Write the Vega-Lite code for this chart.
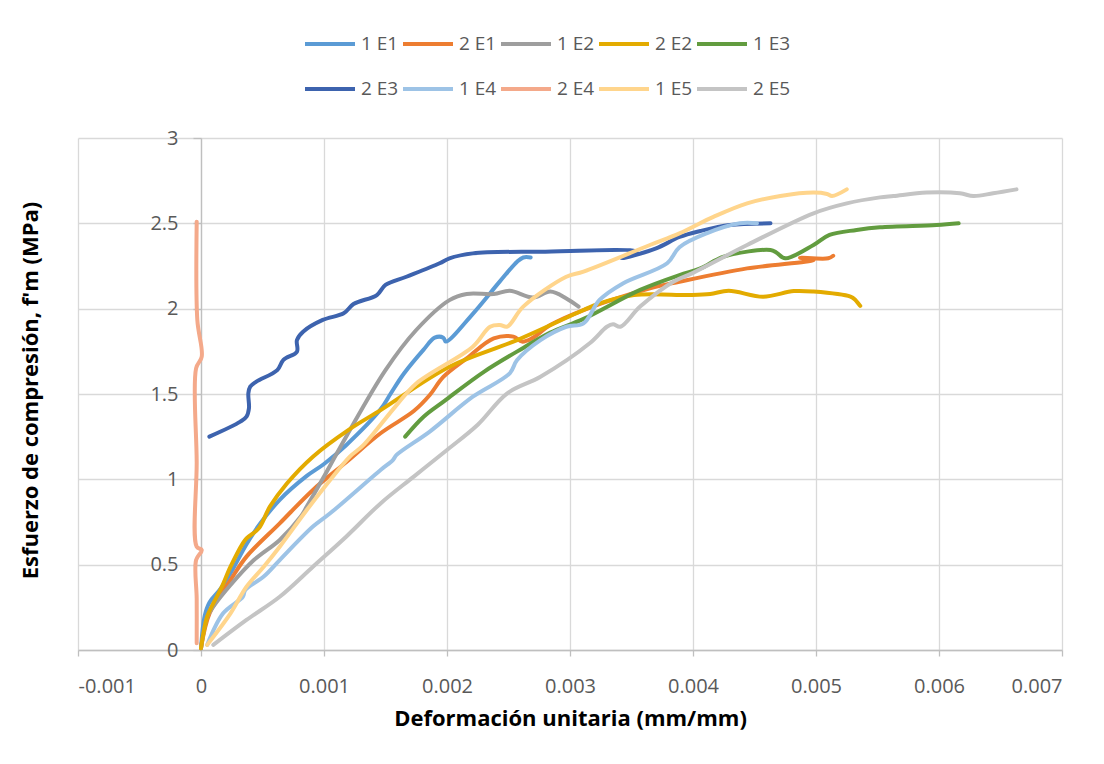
{
  "$schema": "https://vega.github.io/schema/vega-lite/v6.json",
  "width": 984,
  "height": 512,
  "autosize": {"type": "none"},
  "padding": {"left": 78, "top": 138, "right": 42, "bottom": 114},
  "background": "white",
  "config": {"view": {"stroke": null}, "font": "Open Sans"},
  "data": {"values": [
    {"s":"1 E1","i":0,"x":0,"y":0.01},{"s":"1 E1","i":1,"x":0.00003,"y":0.2},{"s":"1 E1","i":2,"x":0.00007,"y":0.28},{"s":"1 E1","i":3,"x":0.00015,"y":0.35},{"s":"1 E1","i":4,"x":0.00024,"y":0.45},{"s":"1 E1","i":5,"x":0.00037,"y":0.62},{"s":"1 E1","i":6,"x":0.00048,"y":0.74},{"s":"1 E1","i":7,"x":0.00064,"y":0.88},{"s":"1 E1","i":8,"x":0.00086,"y":1.02},{"s":"1 E1","i":9,"x":0.001,"y":1.09},{"s":"1 E1","i":10,"x":0.00118,"y":1.2},{"s":"1 E1","i":11,"x":0.00146,"y":1.41},{"s":"1 E1","i":12,"x":0.00154,"y":1.5},{"s":"1 E1","i":13,"x":0.00165,"y":1.62},{"s":"1 E1","i":14,"x":0.00181,"y":1.76},{"s":"1 E1","i":15,"x":0.0019,"y":1.83},{"s":"1 E1","i":16,"x":0.00197,"y":1.83},{"s":"1 E1","i":17,"x":0.00199,"y":1.807},{"s":"1 E1","i":18,"x":0.00221,"y":1.97},{"s":"1 E1","i":19,"x":0.00243,"y":2.16},{"s":"1 E1","i":20,"x":0.00257,"y":2.275},{"s":"1 E1","i":21,"x":0.00262,"y":2.3},{"s":"1 E1","i":22,"x":0.00268,"y":2.3},
    {"s":"2 E1","i":0,"x":0,"y":0.01},{"s":"2 E1","i":1,"x":0.00007,"y":0.215},{"s":"2 E1","i":2,"x":0.00024,"y":0.41},{"s":"2 E1","i":3,"x":0.00037,"y":0.547},{"s":"2 E1","i":4,"x":0.00064,"y":0.742},{"s":"2 E1","i":5,"x":0.00091,"y":0.938},{"s":"2 E1","i":6,"x":0.00118,"y":1.1},{"s":"2 E1","i":7,"x":0.00146,"y":1.27},{"s":"2 E1","i":8,"x":0.00173,"y":1.4},{"s":"2 E1","i":9,"x":0.00186,"y":1.494},{"s":"2 E1","i":10,"x":0.00197,"y":1.6},{"s":"2 E1","i":11,"x":0.00216,"y":1.709},{"s":"2 E1","i":12,"x":0.00238,"y":1.826},{"s":"2 E1","i":13,"x":0.00254,"y":1.836},{"s":"2 E1","i":14,"x":0.00261,"y":1.807},{"s":"2 E1","i":15,"x":0.00269,"y":1.826},{"s":"2 E1","i":16,"x":0.00284,"y":1.904},{"s":"2 E1","i":17,"x":0.00311,"y":1.992},{"s":"2 E1","i":18,"x":0.00365,"y":2.119},{"s":"2 E1","i":19,"x":0.00389,"y":2.158},{"s":"2 E1","i":20,"x":0.00444,"y":2.236},{"s":"2 E1","i":21,"x":0.00498,"y":2.285},{"s":"2 E1","i":22,"x":0.00487,"y":2.298},{"s":"2 E1","i":23,"x":0.0051,"y":2.295},{"s":"2 E1","i":24,"x":0.00514,"y":2.31},
    {"s":"1 E2","i":0,"x":0,"y":0.01},{"s":"1 E2","i":1,"x":0.00005,"y":0.195},{"s":"1 E2","i":2,"x":0.0001,"y":0.254},{"s":"1 E2","i":3,"x":0.00024,"y":0.381},{"s":"1 E2","i":4,"x":0.00043,"y":0.527},{"s":"1 E2","i":5,"x":0.00064,"y":0.645},{"s":"1 E2","i":6,"x":0.00081,"y":0.781},{"s":"1 E2","i":7,"x":0.00086,"y":0.84},{"s":"1 E2","i":8,"x":0.001,"y":1.016},{"s":"1 E2","i":9,"x":0.00118,"y":1.25},{"s":"1 E2","i":10,"x":0.0015,"y":1.64},{"s":"1 E2","i":11,"x":0.00175,"y":1.875},{"s":"1 E2","i":12,"x":0.00202,"y":2.05},{"s":"1 E2","i":13,"x":0.00216,"y":2.086},{"s":"1 E2","i":14,"x":0.00238,"y":2.086},{"s":"1 E2","i":15,"x":0.00251,"y":2.105},{"s":"1 E2","i":16,"x":0.0027,"y":2.066},{"s":"1 E2","i":17,"x":0.00284,"y":2.1},{"s":"1 E2","i":18,"x":0.00297,"y":2.06},{"s":"1 E2","i":19,"x":0.00307,"y":2.012},
    {"s":"2 E2","i":0,"x":0,"y":0.01},{"s":"2 E2","i":1,"x":0.00005,"y":0.195},{"s":"2 E2","i":2,"x":0.0001,"y":0.273},{"s":"2 E2","i":3,"x":0.00017,"y":0.371},{"s":"2 E2","i":4,"x":0.00024,"y":0.488},{"s":"2 E2","i":5,"x":0.00034,"y":0.625},{"s":"2 E2","i":6,"x":0.00037,"y":0.654},{"s":"2 E2","i":7,"x":0.00047,"y":0.713},{"s":"2 E2","i":8,"x":0.00056,"y":0.84},{"s":"2 E2","i":9,"x":0.0007,"y":0.977},{"s":"2 E2","i":10,"x":0.00091,"y":1.133},{"s":"2 E2","i":11,"x":0.0012,"y":1.29},{"s":"2 E2","i":12,"x":0.00147,"y":1.41},{"s":"2 E2","i":13,"x":0.00202,"y":1.66},{"s":"2 E2","i":14,"x":0.00257,"y":1.816},{"s":"2 E2","i":15,"x":0.00311,"y":1.992},{"s":"2 E2","i":16,"x":0.00324,"y":2.031},{"s":"2 E2","i":17,"x":0.00352,"y":2.08},{"s":"2 E2","i":18,"x":0.00398,"y":2.08},{"s":"2 E2","i":19,"x":0.00414,"y":2.086},{"s":"2 E2","i":20,"x":0.00429,"y":2.105},{"s":"2 E2","i":21,"x":0.00457,"y":2.07},{"s":"2 E2","i":22,"x":0.00482,"y":2.103},{"s":"2 E2","i":23,"x":0.00498,"y":2.1},{"s":"2 E2","i":24,"x":0.00528,"y":2.07},{"s":"2 E2","i":25,"x":0.00532,"y":2.051},{"s":"2 E2","i":26,"x":0.00536,"y":2.016},
    {"s":"1 E3","i":0,"x":0.00166,"y":1.25},{"s":"1 E3","i":1,"x":0.00181,"y":1.367},{"s":"1 E3","i":2,"x":0.00198,"y":1.46},{"s":"1 E3","i":3,"x":0.0023,"y":1.63},{"s":"1 E3","i":4,"x":0.00262,"y":1.77},{"s":"1 E3","i":5,"x":0.00284,"y":1.86},{"s":"1 E3","i":6,"x":0.00311,"y":1.94},{"s":"1 E3","i":7,"x":0.00357,"y":2.11},{"s":"1 E3","i":8,"x":0.00389,"y":2.197},{"s":"1 E3","i":9,"x":0.00406,"y":2.236},{"s":"1 E3","i":10,"x":0.00425,"y":2.305},{"s":"1 E3","i":11,"x":0.00463,"y":2.344},{"s":"1 E3","i":12,"x":0.00468,"y":2.328},{"s":"1 E3","i":13,"x":0.00475,"y":2.295},{"s":"1 E3","i":14,"x":0.00498,"y":2.373},{"s":"1 E3","i":15,"x":0.00511,"y":2.432},{"s":"1 E3","i":16,"x":0.00533,"y":2.461},{"s":"1 E3","i":17,"x":0.00552,"y":2.477},{"s":"1 E3","i":18,"x":0.00598,"y":2.49},{"s":"1 E3","i":19,"x":0.00616,"y":2.5},
    {"s":"2 E3","i":0,"x":0.000068,"y":1.25},{"s":"2 E3","i":1,"x":0.00032,"y":1.338},{"s":"2 E3","i":2,"x":0.00037,"y":1.367},{"s":"2 E3","i":3,"x":0.00039,"y":1.416},{"s":"2 E3","i":4,"x":0.000385,"y":1.504},{"s":"2 E3","i":5,"x":0.0004,"y":1.543},{"s":"2 E3","i":6,"x":0.00045,"y":1.572},{"s":"2 E3","i":7,"x":0.00062,"y":1.64},{"s":"2 E3","i":8,"x":0.00067,"y":1.7},{"s":"2 E3","i":9,"x":0.00078,"y":1.748},{"s":"2 E3","i":10,"x":0.00078,"y":1.816},{"s":"2 E3","i":11,"x":0.00083,"y":1.865},{"s":"2 E3","i":12,"x":0.00099,"y":1.934},{"s":"2 E3","i":13,"x":0.00116,"y":1.973},{"s":"2 E3","i":14,"x":0.00124,"y":2.027},{"s":"2 E3","i":15,"x":0.00143,"y":2.08},{"s":"2 E3","i":16,"x":0.0015,"y":2.139},{"s":"2 E3","i":17,"x":0.00167,"y":2.187},{"s":"2 E3","i":18,"x":0.00194,"y":2.266},{"s":"2 E3","i":19,"x":0.00202,"y":2.295},{"s":"2 E3","i":20,"x":0.00221,"y":2.324},{"s":"2 E3","i":21,"x":0.00276,"y":2.334},{"s":"2 E3","i":22,"x":0.00354,"y":2.334},{"s":"2 E3","i":23,"x":0.00342,"y":2.295},{"s":"2 E3","i":24,"x":0.0037,"y":2.353},{"s":"2 E3","i":25,"x":0.00389,"y":2.42},{"s":"2 E3","i":26,"x":0.00406,"y":2.455},{"s":"2 E3","i":27,"x":0.0043,"y":2.49},{"s":"2 E3","i":28,"x":0.00463,"y":2.5},
    {"s":"1 E4","i":0,"x":0.00005,"y":0.03},{"s":"1 E4","i":1,"x":0.00018,"y":0.215},{"s":"1 E4","i":2,"x":0.00034,"y":0.312},{"s":"1 E4","i":3,"x":0.00036,"y":0.352},{"s":"1 E4","i":4,"x":0.00051,"y":0.43},{"s":"1 E4","i":5,"x":0.00064,"y":0.527},{"s":"1 E4","i":6,"x":0.00091,"y":0.723},{"s":"1 E4","i":7,"x":0.00105,"y":0.801},{"s":"1 E4","i":8,"x":0.00146,"y":1.055},{"s":"1 E4","i":9,"x":0.00156,"y":1.113},{"s":"1 E4","i":10,"x":0.00159,"y":1.143},{"s":"1 E4","i":11,"x":0.00186,"y":1.28},{"s":"1 E4","i":12,"x":0.00221,"y":1.484},{"s":"1 E4","i":13,"x":0.00251,"y":1.621},{"s":"1 E4","i":14,"x":0.00257,"y":1.699},{"s":"1 E4","i":15,"x":0.00276,"y":1.816},{"s":"1 E4","i":16,"x":0.00297,"y":1.894},{"s":"1 E4","i":17,"x":0.00311,"y":1.914},{"s":"1 E4","i":18,"x":0.00324,"y":2.051},{"s":"1 E4","i":19,"x":0.00343,"y":2.148},{"s":"1 E4","i":20,"x":0.00379,"y":2.266},{"s":"1 E4","i":21,"x":0.00389,"y":2.36},{"s":"1 E4","i":22,"x":0.00411,"y":2.441},{"s":"1 E4","i":23,"x":0.00438,"y":2.5},{"s":"1 E4","i":24,"x":0.00452,"y":2.5},
    {"s":"2 E4","i":0,"x":-0.000035,"y":0.04},{"s":"2 E4","i":1,"x":-0.000035,"y":0.3},{"s":"2 E4","i":2,"x":-0.00004,"y":0.527},{"s":"2 E4","i":3,"x":0.000006,"y":0.586},{"s":"2 E4","i":4,"x":-0.000035,"y":0.605},{"s":"2 E4","i":5,"x":-0.000035,"y":1.1},{"s":"2 E4","i":6,"x":-0.00004,"y":1.65},{"s":"2 E4","i":7,"x":0.000006,"y":1.719},{"s":"2 E4","i":8,"x":-0.00003,"y":1.934},{"s":"2 E4","i":9,"x":-0.000035,"y":2.51},
    {"s":"1 E5","i":0,"x":0.00005,"y":0.03},{"s":"1 E5","i":1,"x":0.00024,"y":0.215},{"s":"1 E5","i":2,"x":0.00037,"y":0.371},{"s":"1 E5","i":3,"x":0.00051,"y":0.488},{"s":"1 E5","i":4,"x":0.00064,"y":0.605},{"s":"1 E5","i":5,"x":0.00086,"y":0.82},{"s":"1 E5","i":6,"x":0.00105,"y":0.996},{"s":"1 E5","i":7,"x":0.00121,"y":1.133},{"s":"1 E5","i":8,"x":0.00132,"y":1.2},{"s":"1 E5","i":9,"x":0.00158,"y":1.426},{"s":"1 E5","i":10,"x":0.00175,"y":1.562},{"s":"1 E5","i":11,"x":0.00221,"y":1.777},{"s":"1 E5","i":12,"x":0.00235,"y":1.894},{"s":"1 E5","i":13,"x":0.00243,"y":1.904},{"s":"1 E5","i":14,"x":0.00249,"y":1.895},{"s":"1 E5","i":15,"x":0.00262,"y":2.012},{"s":"1 E5","i":16,"x":0.00297,"y":2.187},{"s":"1 E5","i":17,"x":0.00311,"y":2.217},{"s":"1 E5","i":18,"x":0.00365,"y":2.373},{"s":"1 E5","i":19,"x":0.00389,"y":2.441},{"s":"1 E5","i":20,"x":0.00417,"y":2.539},{"s":"1 E5","i":21,"x":0.00444,"y":2.617},{"s":"1 E5","i":22,"x":0.00471,"y":2.66},{"s":"1 E5","i":23,"x":0.00498,"y":2.68},{"s":"1 E5","i":24,"x":0.00509,"y":2.672},{"s":"1 E5","i":25,"x":0.00513,"y":2.66},{"s":"1 E5","i":26,"x":0.00525,"y":2.699},
    {"s":"2 E5","i":0,"x":0.0001,"y":0.03},{"s":"2 E5","i":1,"x":0.00037,"y":0.176},{"s":"2 E5","i":2,"x":0.00064,"y":0.312},{"s":"2 E5","i":3,"x":0.00091,"y":0.488},{"s":"2 E5","i":4,"x":0.00118,"y":0.664},{"s":"2 E5","i":5,"x":0.00146,"y":0.859},{"s":"2 E5","i":6,"x":0.00173,"y":1.016},{"s":"2 E5","i":7,"x":0.002,"y":1.172},{"s":"2 E5","i":8,"x":0.00225,"y":1.32},{"s":"2 E5","i":9,"x":0.00249,"y":1.504},{"s":"2 E5","i":10,"x":0.00276,"y":1.601},{"s":"2 E5","i":11,"x":0.00316,"y":1.797},{"s":"2 E5","i":12,"x":0.0033,"y":1.894},{"s":"2 E5","i":13,"x":0.00335,"y":1.908},{"s":"2 E5","i":14,"x":0.00341,"y":1.894},{"s":"2 E5","i":15,"x":0.00357,"y":2.012},{"s":"2 E5","i":16,"x":0.00384,"y":2.158},{"s":"2 E5","i":17,"x":0.004,"y":2.21},{"s":"2 E5","i":18,"x":0.00444,"y":2.373},{"s":"2 E5","i":19,"x":0.00498,"y":2.559},{"s":"2 E5","i":20,"x":0.00525,"y":2.617},{"s":"2 E5","i":21,"x":0.00552,"y":2.652},{"s":"2 E5","i":22,"x":0.00563,"y":2.66},{"s":"2 E5","i":23,"x":0.0059,"y":2.68},{"s":"2 E5","i":24,"x":0.00617,"y":2.676},{"s":"2 E5","i":25,"x":0.00628,"y":2.66},{"s":"2 E5","i":26,"x":0.00644,"y":2.676},{"s":"2 E5","i":27,"x":0.00663,"y":2.699}
  ]},
  "mark": {"type": "line", "interpolate": "catmull-rom", "strokeWidth": 4, "strokeCap": "round", "strokeJoin": "round"},
  "encoding": {
    "x": {
      "field": "x", "type": "quantitative",
      "scale": {"domain": [-0.001, 0.007], "nice": false, "zero": false},
      "axis": {
        "values": [-0.001, 0, 0.001, 0.002, 0.003, 0.004, 0.005, 0.006, 0.007],
        "labelExpr": "datum.value < 0 ? '-' + format(-datum.value, '.3~f') : format(datum.value, '.3~f')",
        "title": "Deformación unitaria (mm/mm)",
        "grid": true, "gridColor": "#D9D9D9", "gridWidth": 1.3,
        "domainColor": "#BFBFBF", "domainWidth": 1.3,
        "tickColor": "#BFBFBF", "tickSize": 6, "tickWidth": 1.3,
        "labelFontSize": 20, "labelColor": "#595959", "labelPadding": 20,
        "titleFontSize": 22, "titleFontWeight": "bold", "titleColor": "#000000",
        "titleY": 68, "titleBaseline": "middle"
      }
    },
    "y": {
      "field": "y", "type": "quantitative",
      "scale": {"domain": [0, 3], "nice": false},
      "axis": {
        "values": [0, 0.5, 1, 1.5, 2, 2.5, 3],
        "format": "~g",
        "offset": -123,
        "title": "Esfuerzo de compresión, f'm (MPa)",
        "grid": true, "gridColor": "#D9D9D9", "gridWidth": 1.3,
        "domainColor": "#BFBFBF", "domainWidth": 1.3,
        "tickColor": "#BFBFBF", "tickSize": 8, "tickWidth": 1.3,
        "labelFontSize": 20, "labelColor": "#595959", "labelPadding": 15,
        "titleFontSize": 22, "titleFontWeight": "bold", "titleColor": "#000000",
        "titleX": -171, "titleY": 252, "titleBaseline": "middle", "titleAlign": "center"
      }
    },
    "color": {
      "field": "s", "type": "nominal",
      "scale": {
        "domain": ["1 E1", "2 E1", "1 E2", "2 E2", "1 E3", "2 E3", "1 E4", "2 E4", "1 E5", "2 E5"],
        "range": ["#5B9BD5", "#ED7D31", "#9E9E9E", "#E3AB00", "#629C3F", "#3D63AE", "#9DC3E6", "#F4A98A", "#FFD58C", "#C4C4C4"]
      },
      "legend": {
        "title": null, "orient": "none", "legendX": 225, "legendY": -104,
        "direction": "horizontal", "columns": 5,
        "symbolType": "stroke", "symbolSize": 2500, "symbolStrokeWidth": 4,
        "labelFontSize": 19, "labelColor": "#595959", "labelOffset": 4,
        "columnPadding": 2, "rowPadding": 25, "clipHeight": 20
      }
    },
    "order": {"field": "i", "type": "quantitative"}
  }
}
